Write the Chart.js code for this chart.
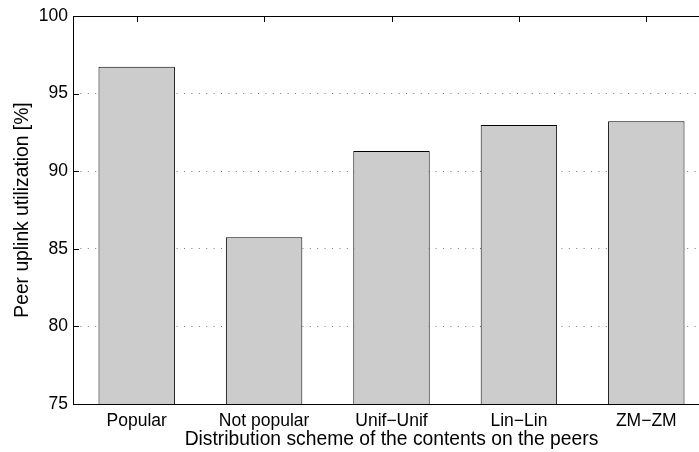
<!DOCTYPE html>
<html>
<head>
<meta charset="utf-8">
<script src="https://cdn.jsdelivr.net/npm/chart.js@4"></script>
<style>
    html, body { margin: 0; padding: 0; background: #fff; overflow: hidden; }
    #wrap { position: relative; width: 711px; height: 452px; }
</style>
</head>
<body>
<div id="wrap"><canvas id="barChart"></canvas></div>
<script>
// data
const categories = ['Popular', 'Not popular', 'Unif\u2212Unif', 'Lin\u2212Lin', 'ZM\u2212ZM'];
const utilization = [96.73, 85.75, 91.30, 92.98, 93.22];
const yTicks = [75, 80, 85, 90, 95, 100];

const FONT = '"Liberation Sans", Arial, Helvetica, sans-serif';

// frame + inward ticks like matlab axes
const axesBox = {
    id: 'axesBox',
    beforeDatasetsDraw(chart) {
        const { ctx, chartArea: a, scales } = chart;
        const len = 6;
        ctx.save();
        ctx.strokeStyle = '#000';
        ctx.lineWidth = 1;
        ctx.beginPath();
        yTicks.forEach(v => {
            const y = Math.round(scales.y.getPixelForValue(v)) + 0.5;
            ctx.moveTo(a.left, y); ctx.lineTo(a.left + len, y);
            ctx.moveTo(a.right, y); ctx.lineTo(a.right - len, y);
        });
        categories.forEach((c, i) => {
            const x = Math.round(scales.x.getPixelForValue(i)) + 0.5;
            ctx.moveTo(x, a.top); ctx.lineTo(x, a.top + len);
            ctx.moveTo(x, a.bottom); ctx.lineTo(x, a.bottom - len);
        });
        ctx.stroke();
        ctx.restore();
    },
    afterDatasetsDraw(chart) {
        const { ctx, chartArea: a } = chart;
        ctx.save();
        ctx.strokeStyle = '#000';
        ctx.lineWidth = 1;
        ctx.strokeRect(Math.round(a.left) + 0.5, Math.round(a.top) + 0.5,
            Math.round(a.right - a.left), Math.round(a.bottom - a.top));
        ctx.restore();
    }
};

new Chart(document.getElementById('barChart'), {
    type: 'bar',
    data: {
        labels: categories,
        datasets: [{
            label: 'Peer uplink utilization',
            data: utilization,
            backgroundColor: '#cccccc',
            borderColor: '#000000',
            borderWidth: 1,
            barPercentage: 0.6,
            categoryPercentage: 1.0
        }]
    },
    options: {
        responsive: true,
        maintainAspectRatio: false,
        animation: false,
        layout: { padding: { top: 16, right: 1, left: 0, bottom: 0 } },
        plugins: {
            legend: { display: false },
            tooltip: { enabled: false }
        },
        scales: {
            x: {
                grid: { display: false, drawTicks: false },
                border: { display: false },
                ticks: {
                    color: '#000',
                    padding: 7,
                    font: { family: FONT, size: 17.5 }
                },
                title: {
                    display: true,
                    text: 'Distribution scheme of the contents on the peers',
                    color: '#000',
                    padding: { top: 0, bottom: 1 },
                    font: { family: FONT, size: 19.3 }
                },
                afterFit(scale) { scale.height = 48; }
            },
            y: {
                min: 75,
                max: 100,
                grid: {
                    drawTicks: false,
                    lineWidth: 1,
                    color: ctx => (ctx.tick && (ctx.tick.value === 75 || ctx.tick.value === 100)) ? 'rgba(0,0,0,0)' : '#777777'
                },
                border: { display: false, dash: [1, 6.4] },
                ticks: {
                    stepSize: 5,
                    color: '#000',
                    padding: 5,
                    font: { family: FONT, size: 17.5 }
                },
                title: {
                    display: true,
                    text: 'Peer uplink utilization [%]',
                    color: '#000',
                    padding: { top: 11, bottom: 0 },
                    font: { family: FONT, size: 19.3 }
                },
                afterFit(scale) { scale.width = 73; }
            }
        }
    },
    plugins: [axesBox]
});
</script>
</body>
</html>
